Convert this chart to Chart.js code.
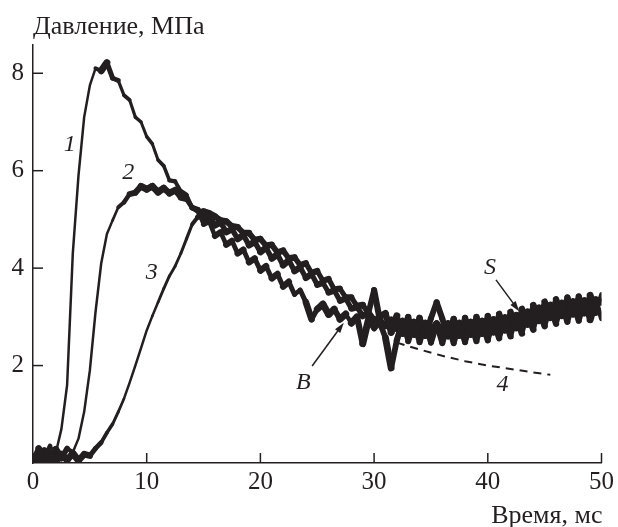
<!DOCTYPE html>
<html>
<head>
<meta charset="utf-8">
<script src="https://cdn.jsdelivr.net/npm/chart.js@4.4.1/dist/chart.umd.min.js"></script>
<style>
  html, body { margin: 0; padding: 0; background: #fff; }
  #wrap { width: 618px; height: 527px; }
</style>
</head>
<body>
<div id="wrap"><canvas id="chart" width="618" height="527"></canvas></div>
<script>
// время, мс (шаг 0.5)
const time = [0, 0.5, 1, 1.5, 2, 2.5, 3, 3.5, 4, 4.5, 5, 5.5, 6, 6.5, 7, 7.5, 8, 8.5, 9, 9.5,
  10, 10.5, 11, 11.5, 12, 12.5, 13, 13.5, 14, 14.5, 15, 15.5, 16, 16.5, 17, 17.5, 18, 18.5, 19, 19.5,
  20, 20.5, 21, 21.5, 22, 22.5, 23, 23.5, 24, 24.5, 25, 25.5, 26, 26.5, 27, 27.5, 28, 28.5, 29, 29.5,
  30, 30.5, 31, 31.5, 32, 32.5, 33, 33.5, 34, 34.5, 35, 35.5, 36, 36.5, 37, 37.5, 38, 38.5, 39, 39.5,
  40, 40.5, 41, 41.5, 42, 42.5, 43, 43.5, 44, 44.5, 45, 45.5, 46, 46.5, 47, 47.5, 48, 48.5, 49, 49.5, 50];

// давление, МПа — кривая 1
const curve1 = [0.05, 0.3, 0.1, 0.35, 0.2, 0.7, 1.6, 4.3, 5.9, 7.1, 7.75, 8.1, 8.05, 8.22, 7.9, 7.85, 7.55, 7.45, 7.1, 7.0,
  6.7, 6.55, 6.22, 6.1, 5.8, 5.78, 5.58, 5.5, 5.25, 5.16, 4.9, 4.96, 4.66, 4.74, 4.48, 4.56, 4.3, 4.38, 4.12, 4.2,
  3.95, 4.04, 3.79, 3.88, 3.62, 3.72, 3.46, 3.55, 3.3, 2.95, 3.16, 3.26, 3.05, 3.16, 2.95, 3.06, 2.87, 3.0, 2.45, 2.94,
  2.76, 2.88, 2.57, 1.95, 2.52, 2.9, 2.5, 2.88, 2.48, 2.86, 2.47, 2.85, 2.46, 2.85, 2.46, 2.86, 2.48, 2.88, 2.5, 2.9,
  2.52, 2.93, 2.56, 2.97, 2.6, 3.02, 2.66, 3.09, 2.74, 3.17, 2.81, 3.23, 2.86, 3.27, 2.9, 3.3, 2.92, 3.32, 2.94, 3.34, 2.96];

// кривая 2
const curve2 = [0.12, 0.02, 0.25, 0.06, 0.28, 0.1, 0.3, 0.22, 0.5, 1.05, 1.9, 3.1, 4.1, 4.7, 4.98, 5.25, 5.35, 5.52, 5.55, 5.68,
  5.62, 5.68, 5.56, 5.64, 5.54, 5.6, 5.45, 5.42, 5.24, 5.2, 5.02, 5.06, 4.88, 4.94, 4.74, 4.8, 4.6, 4.68, 4.47, 4.54,
  4.33, 4.42, 4.2, 4.28, 4.06, 4.16, 3.94, 4.02, 3.8, 3.88, 3.66, 3.7, 3.5, 3.54, 3.33, 3.38, 3.17, 3.2, 3.02, 3.08,
  2.92, 3.0, 3.07, 2.68, 3.02, 2.65, 3.0, 2.63, 2.98, 2.61, 2.97, 3.3, 2.96, 2.6, 2.96, 2.61, 2.98, 2.63, 3.0, 2.65,
  3.02, 2.68, 3.06, 2.72, 3.1, 2.77, 3.16, 2.84, 3.24, 2.92, 3.31, 2.98, 3.36, 3.02, 3.4, 3.05, 3.42, 3.07, 3.44, 3.09, 3.46];

// кривая 3
const curve3 = [0.02, 0.15, 0.04, 0.2, 0.03, 0.18, 0.06, 0.2, 0.05, 0.18, 0.15, 0.3, 0.42, 0.62, 0.8, 1.05, 1.32, 1.65, 2.0, 2.36,
  2.72, 3.02, 3.3, 3.58, 3.84, 4.04, 4.3, 4.6, 4.9, 5.05, 5.16, 5.12, 5.06, 4.98, 4.96, 4.86, 4.84, 4.72, 4.72, 4.58,
  4.6, 4.46, 4.48, 4.32, 4.36, 4.2, 4.22, 4.06, 4.1, 3.9, 3.94, 3.74, 3.78, 3.56, 3.58, 3.4, 3.4, 3.22, 3.24, 3.08,
  3.55, 2.94, 2.81, 2.94, 2.76, 2.91, 2.74, 2.89, 2.72, 2.87, 2.71, 2.86, 2.7, 2.86, 2.7, 2.87, 2.72, 2.89, 2.74, 2.91,
  2.76, 2.94, 2.8, 2.98, 2.84, 3.03, 2.9, 3.1, 2.98, 3.18, 3.05, 3.24, 3.1, 3.28, 3.14, 3.31, 3.16, 3.33, 3.18, 3.35, 3.3];

// кривая 4 (штриховая)
const time4 = [32, 34, 36, 38, 40, 42, 44, 45.5];
const curve4 = [2.47, 2.33, 2.2, 2.09, 2.0, 1.93, 1.86, 1.81];

const xTicks = [0, 10, 20, 30, 40, 50];
const yTicks = [2, 4, 6, 8];
const yTitle = "Давление, МПа";
const xTitle = "Время, мс";

// подписи кривых (в координатах данных)
const marks = [
  { text: "1", t: 3.24, p: 6.53 },
  { text: "2", t: 8.38, p: 5.95 },
  { text: "3", t: 10.44, p: 3.9 },
  { text: "4", t: 41.3, p: 1.61 },
  { text: "B", t: 23.78, p: 1.65 },
  { text: "S", t: 40.2, p: 4.01 }
];
const arrows = [
  { from: [24.55, 1.99], to: [27.34, 2.88] },
  { from: [40.72, 3.76], to: [42.77, 3.11] }
];

const ink = "#231f20";
const serif = "'Liberation Serif', 'DejaVu Serif', serif";

function pts(xs, ys) {
  return xs.map((x, i) => ({ x: x, y: ys[i] }));
}

// шум записи: полоса толще там, где кривая пологая (наклон берём по соседним точкам)
function noisyWidth(c) {
  const data = c.chart.getDatasetMeta(c.datasetIndex).data;
  const a = data[Math.max(0, c.p0DataIndex - 2)];
  const b = data[Math.min(data.length - 1, c.p1DataIndex + 2)];
  const dx = b.x - a.x, dy = b.y - a.y;
  const len = Math.hypot(dx, dy) || 1;
  return Math.max(2.5, 7 * Math.abs(dx) / len);
}

const extras = {
  id: 'extras',
  afterDatasetsDraw(chart) {
    const ctx = chart.ctx;
    const xs = chart.scales.x, ys = chart.scales.y;
    const area = chart.chartArea;
    ctx.save();
    ctx.strokeStyle = ink;
    ctx.lineWidth = 1.5;
    xTicks.forEach(v => {
      const px = xs.getPixelForValue(v);
      ctx.beginPath();
      ctx.moveTo(px, area.bottom);
      ctx.lineTo(px, area.bottom - 10);
      ctx.stroke();
    });
    yTicks.forEach(v => {
      const py = ys.getPixelForValue(v);
      ctx.beginPath();
      ctx.moveTo(area.left, py);
      ctx.lineTo(area.left + 10, py);
      ctx.stroke();
    });

    ctx.fillStyle = ink;
    ctx.font = "26px " + serif;
    ctx.textBaseline = "alphabetic";
    ctx.textAlign = "left";
    ctx.fillText(yTitle, area.left, 34);
    ctx.textAlign = "right";
    ctx.fillText(xTitle, area.right + 1, 523);

    ctx.font = "italic 24px " + serif;
    ctx.textAlign = "center";
    ctx.textBaseline = "middle";
    marks.forEach(m => {
      ctx.fillText(m.text, xs.getPixelForValue(m.t), ys.getPixelForValue(m.p));
    });

    ctx.lineWidth = 1.5;
    arrows.forEach(a => {
      const x1 = xs.getPixelForValue(a.from[0]), y1 = ys.getPixelForValue(a.from[1]);
      const x2 = xs.getPixelForValue(a.to[0]), y2 = ys.getPixelForValue(a.to[1]);
      const ang = Math.atan2(y2 - y1, x2 - x1);
      ctx.beginPath();
      ctx.moveTo(x1, y1);
      ctx.lineTo(x2 - 6 * Math.cos(ang), y2 - 6 * Math.sin(ang));
      ctx.stroke();
      ctx.beginPath();
      ctx.moveTo(x2, y2);
      ctx.lineTo(x2 - 11 * Math.cos(ang - 0.3), y2 - 11 * Math.sin(ang - 0.3));
      ctx.lineTo(x2 - 11 * Math.cos(ang + 0.3), y2 - 11 * Math.sin(ang + 0.3));
      ctx.closePath();
      ctx.fill();
    });
    ctx.restore();
  }
};

const solid = {
  borderColor: ink, borderWidth: 2.5, pointRadius: 0, tension: 0, fill: false,
  borderCapStyle: 'round', borderJoinStyle: 'round',
  segment: { borderWidth: noisyWidth }
};

new Chart(document.getElementById('chart').getContext('2d'), {
  type: 'line',
  data: {
    datasets: [
      Object.assign({ label: '1', data: pts(time, curve1) }, solid),
      Object.assign({ label: '2', data: pts(time, curve2) }, solid),
      Object.assign({ label: '3', data: pts(time, curve3) }, solid),
      { label: '4', data: pts(time4, curve4), borderColor: ink, borderWidth: 2, borderDash: [8, 6], pointRadius: 0, fill: false }
    ]
  },
  options: {
    responsive: false,
    animation: false,
    devicePixelRatio: 1,
    layout: { padding: { top: 45, right: 16, left: 0, bottom: 0 } },
    plugins: { legend: { display: false }, tooltip: { enabled: false } },
    scales: {
      x: {
        type: 'linear', min: 0, max: 50,
        afterBuildTicks: s => { s.ticks = xTicks.map(v => ({ value: v })); },
        afterFit: s => { s.height = 64; },
        ticks: { color: ink, font: { family: serif, size: 25 }, padding: 4, maxRotation: 0 },
        grid: { display: false, drawTicks: false },
        border: { display: true, color: ink, width: 1.5 }
      },
      y: {
        type: 'linear', min: 0, max: 8.58,
        afterBuildTicks: s => { s.ticks = yTicks.map(v => ({ value: v })); },
        afterFit: s => { s.width = 33; },
        ticks: { color: ink, font: { family: serif, size: 25 }, padding: 9 },
        grid: { display: false, drawTicks: false },
        border: { display: true, color: ink, width: 1.5 }
      }
    }
  },
  plugins: [extras]
});
</script>
</body>
</html>
